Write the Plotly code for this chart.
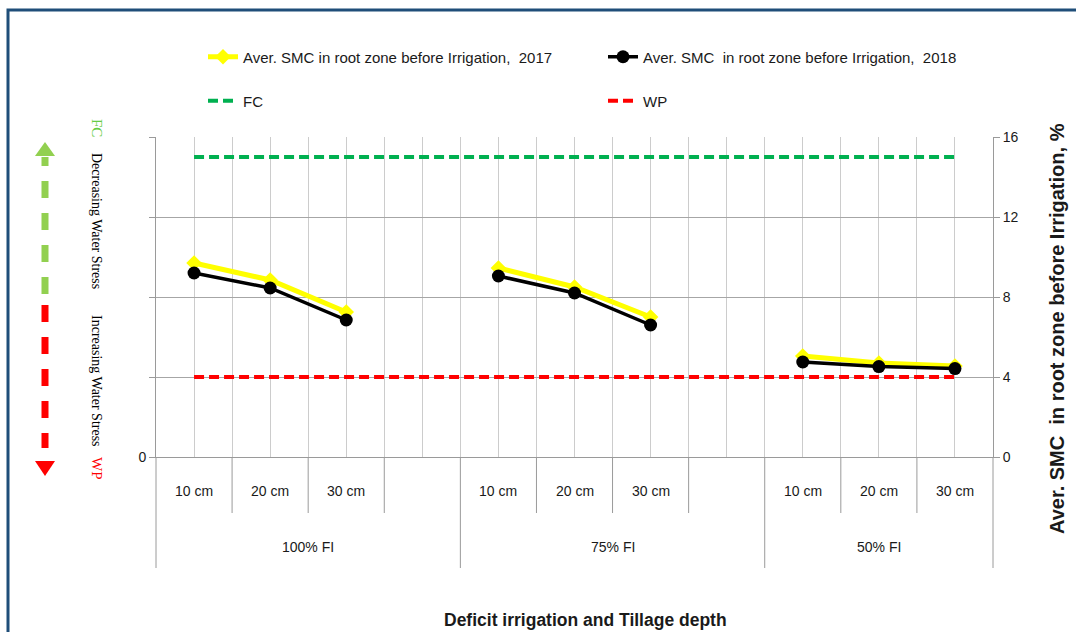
import plotly.graph_objects as go

# ---------------- data ----------------
treatments = ["100% FI", "75% FI", "50% FI"]
group_labels = ["100% FI", "100% FI", "100% FI", "100% FI",
                "75% FI", "75% FI", "75% FI", "75% FI",
                "50% FI", "50% FI", "50% FI"]
depth_labels = ["10 cm", "20 cm", "30 cm", "",
                "10 cm", "20 cm", "30 cm", "",
                "10 cm", "20 cm", "30 cm"]
smc_2017 = [9.7, 8.85, 7.25, None, 9.45, 8.5, 7.0, None, 5.05, 4.7, 4.55]
smc_2018 = [9.2, 8.45, 6.85, None, 9.05, 8.2, 6.6, None, 4.75, 4.52, 4.42]
fc_value = 15
wp_value = 4
y_ticks = [0, 4, 8, 12, 16]

name_2017 = "Aver. SMC in root zone before Irrigation,  2017"
name_2018 = "Aver. SMC  in root zone before Irrigation,  2018"

# ---------------- geometry helpers ----------------
W, H = 1076, 632
PL, PR, PT, PB = 156, 993, 137, 457  # plot area in pixels
N = len(depth_labels)
pos = list(range(N))


def px_x(X):
    return (X - PL) / (PR - PL)


def px_y(Y):
    return (PB - Y) / (PB - PT)


def cat_x(v):
    # category coordinate -> paper
    return (v + 0.5) / N


LBL_FONT = "Liberation Sans, Arial, sans-serif"
TXT = "#1a1a1a"

fig = go.Figure()

fig.add_trace(go.Scatter(
    x=pos, y=smc_2017, name=name_2017, mode="lines+markers",
    line=dict(color="#FFFF00", width=5),
    marker=dict(symbol="diamond", size=12, color="#FFFF00"),
    connectgaps=False, legend="legend"))
fig.add_trace(go.Scatter(
    x=pos, y=smc_2018, name=name_2018, mode="lines+markers",
    line=dict(color="#000000", width=3.5),
    marker=dict(symbol="circle", size=13, color="#000000"),
    connectgaps=False, legend="legend"))
fig.add_trace(go.Scatter(
    x=[pos[0], pos[-1]], y=[fc_value, fc_value], name="FC", mode="lines",
    line=dict(color="#00B050", width=4, dash="10px,5px"), legend="legend2"))
fig.add_trace(go.Scatter(
    x=[pos[0], pos[-1]], y=[wp_value, wp_value], name="WP", mode="lines",
    line=dict(color="#FF0000", width=4, dash="10px,5px"), legend="legend2"))
# anchor trace for the left axis
fig.add_trace(go.Scatter(x=[None], y=[None], yaxis="y2", showlegend=False,
                         hoverinfo="skip"))

shapes = []
annotations = []


def note(x, y, text, size, color=TXT, family=LBL_FONT, angle=0, xref="paper"):
    annotations.append(dict(x=x, xref=xref, y=y, yref="paper", text=text,
                            textangle=angle, showarrow=False,
                            xanchor="center", yanchor="middle",
                            font=dict(family=family, size=size, color=color)))


# outer border
shapes.append(dict(type="rect", xref="paper", yref="paper",
                   x0=px_x(8), x1=px_x(W + 20), y0=px_y(10), y1=px_y(H + 20),
                   line=dict(color="#1F4E79", width=3), fillcolor="rgba(0,0,0,0)",
                   layer="below"))

# category axis ticks / dividers below the plot
for b in range(N + 1):
    v = b - 0.5
    left = group_labels[b - 1] if b - 1 >= 0 else None
    right = group_labels[b] if b < N else None
    long_line = left != right
    y_end = 568 if long_line else 513
    shapes.append(dict(type="line", xref="paper", yref="paper",
                       x0=cat_x(v), x1=cat_x(v), y0=px_y(PB), y1=px_y(y_end),
                       line=dict(color="#9a9a9a", width=1)))

# depth labels
for i, lab in enumerate(depth_labels):
    if lab:
        note(pos[i], px_y(491), lab, 14, xref="x")
# treatment labels
for t in treatments:
    idx = [i for i, g in enumerate(group_labels) if g == t]
    centre = (idx[0] + idx[-1]) / 2
    note(centre, px_y(547), t, 14, xref="x")

# x-axis title
note(px_x(585), px_y(620), "<b>Deficit irrigation and Tillage depth</b>", 17.5)
# right axis title
note(px_x(1057), px_y(329), "<b>Aver. SMC  in root zone before Irrigation, %</b>",
     20, angle=-90)

# left side stress indicators
SERIF = "Liberation Serif, Times New Roman, serif"
note(px_x(97), px_y(128), "FC", 15, color="#66CC44", family=SERIF, angle=90)
note(px_x(97), px_y(221), "Decreasing Water Stress", 14, color="#000000",
     family=SERIF, angle=90)
note(px_x(97), px_y(381), "Increasing Water Stress", 14, color="#000000",
     family=SERIF, angle=90)
note(px_x(97), px_y(468), "WP", 15, color="#FF0000", family=SERIF, angle=90)

# dashed arrows
AX = 45
shapes.append(dict(type="line", xref="paper", yref="paper",
                   x0=px_x(AX), x1=px_x(AX), y0=px_y(294), y1=px_y(157),
                   line=dict(color="#92D050", width=7, dash="17px,15px")))
shapes.append(dict(type="path", xref="paper", yref="paper",
                   path=f"M {px_x(AX-10)} {px_y(156)} L {px_x(AX+10)} {px_y(156)} "
                        f"L {px_x(AX)} {px_y(142)} Z",
                   fillcolor="#92D050", line=dict(width=0)))
shapes.append(dict(type="line", xref="paper", yref="paper",
                   x0=px_x(AX), x1=px_x(AX), y0=px_y(305), y1=px_y(448),
                   line=dict(color="#FF0000", width=7, dash="17px,15px")))
shapes.append(dict(type="path", xref="paper", yref="paper",
                   path=f"M {px_x(AX-10)} {px_y(461)} L {px_x(AX+10)} {px_y(461)} "
                        f"L {px_x(AX)} {px_y(476)} Z",
                   fillcolor="#FF0000", line=dict(width=0)))

legend_common = dict(orientation="h", xanchor="left", yanchor="middle",
                     entrywidth=355, entrywidthmode="pixels",
                     bgcolor="rgba(0,0,0,0)",
                     font=dict(family=LBL_FONT, size=15, color=TXT))

fig.update_layout(
    width=W, height=H,
    margin=dict(l=PL, r=W - PR, t=PT, b=H - PB, pad=0),
    paper_bgcolor="white", plot_bgcolor="white",
    showlegend=True,
    font=dict(family=LBL_FONT, size=14, color=TXT),
    xaxis=dict(range=[-0.5, N - 0.5], tickmode="linear", tick0=-0.5, dtick=0.5,
               showticklabels=False, ticks="", showgrid=True,
               gridcolor="#cccccc", gridwidth=1, zeroline=False,
               showline=True, linecolor="#9a9a9a", linewidth=1, mirror=False,
               fixedrange=True),
    yaxis=dict(range=[0, 16], side="right", tickvals=y_ticks,
               ticks="outside", ticklen=6, tickcolor="#9a9a9a",
               showline=True, linecolor="#9a9a9a", linewidth=1,
               showgrid=True, gridcolor="#a6a6a6", gridwidth=1,
               zeroline=False, tickfont=dict(size=14, color=TXT)),
    yaxis2=dict(range=[0, 16], overlaying="y", side="left", tickvals=y_ticks,
                ticktext=["0", "", "", "", ""], ticks="outside", ticklen=6,
                tickcolor="#9a9a9a", showline=True, linecolor="#9a9a9a",
                linewidth=1, showgrid=False, zeroline=False,
                tickfont=dict(size=14, color=TXT)),
    legend=dict(x=px_x(203), y=px_y(57), **legend_common),
    legend2=dict(x=px_x(203), y=px_y(101), **legend_common),
    shapes=shapes,
    annotations=annotations,
)

fig.write_html("out.html",
               config={"displayModeBar": False},
               post_script="document.body.style.margin='0';"
                           "document.body.style.overflow='hidden';")
